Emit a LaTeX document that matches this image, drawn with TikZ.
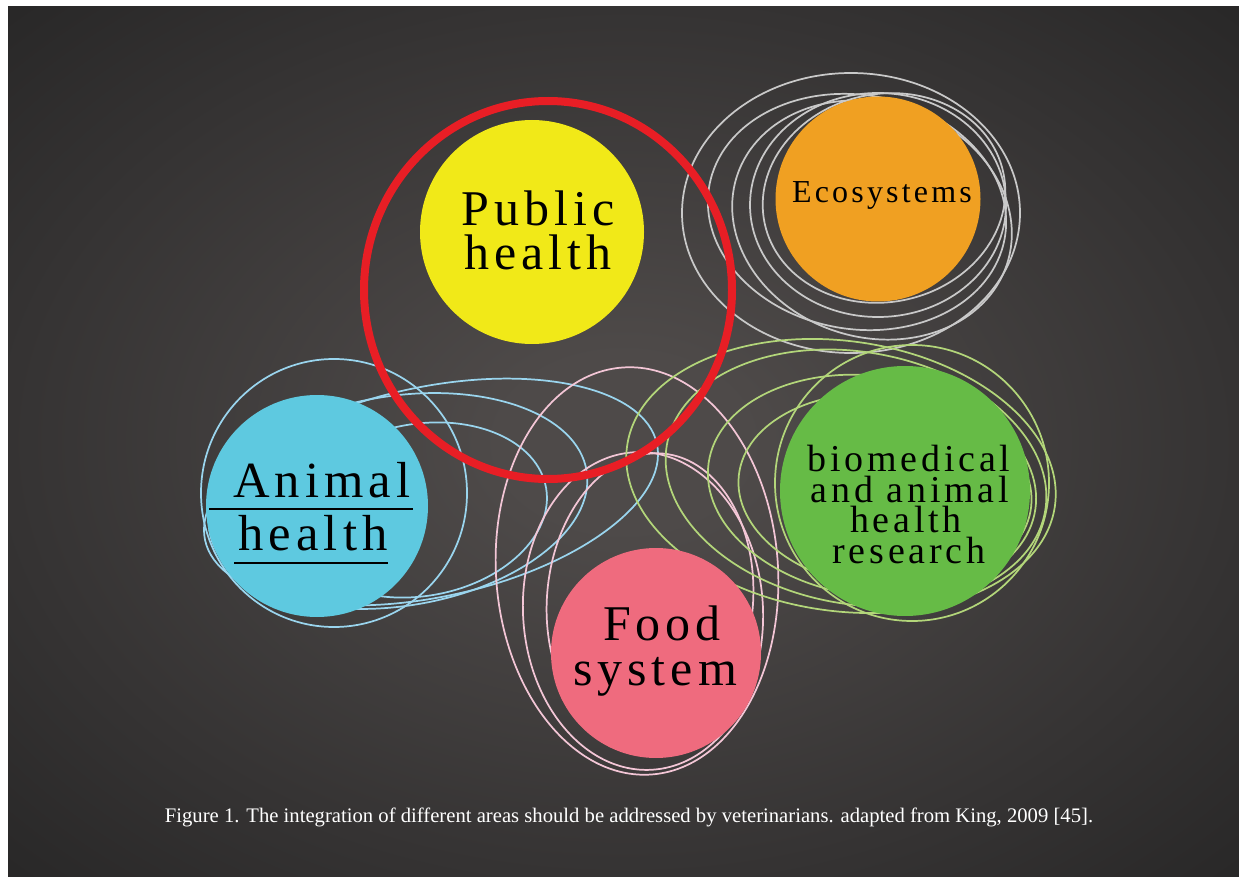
\documentclass[tikz,border=0pt]{standalone}
\usepackage{fontspec}
\setmainfont{Liberation Serif}
\newfontfamily\lblfont[LetterSpace=10]{Liberation Serif}
\definecolor{bgin}{HTML}{4E4A49}
\definecolor{bgmid}{HTML}{353333}
\definecolor{bgout}{HTML}{292828}
\definecolor{yellowc}{HTML}{F1E918}
\definecolor{orangec}{HTML}{F0A022}
\definecolor{cyanc}{HTML}{5EC9E0}
\definecolor{greenc}{HTML}{66BB46}
\definecolor{pinkc}{HTML}{EF6B7E}
\definecolor{redc}{HTML}{E81E25}
\definecolor{grayl}{HTML}{C9C9C9}
\definecolor{bluel}{HTML}{9AD5EE}
\definecolor{pinkl}{HTML}{F3C6D6}
\definecolor{greenl}{HTML}{B3D67A}
\pgfdeclareradialshading{bgshade}{\pgfpoint{0bp}{0bp}}{color(0bp)=(bgin); color(5bp)=(bgin); color(25bp)=(bgmid); color(35bp)=(bgout); color(50bp)=(bgout)}
\begin{document}
\begin{tikzpicture}[x=0.75pt,y=-0.75pt,
  ring/.style={line width=1.3pt},
  grayring/.style={ring,draw=grayl},
  bluering/.style={ring,draw=bluel},
  pinkring/.style={ring,draw=pinkl},
  greenring/.style={ring,draw=greenl},
  blob/.style={circle,inner sep=0pt,draw=none},
  lbl/.style={anchor=base,inner sep=0pt,text=black}]
\useasboundingbox (0,0) rectangle (1239,877);
\fill[white] (0,0) rectangle (1239,877);
\shade[shading=bgshade] (8,7) rectangle (1239,877);

% gray loops (Ecosystems)
\draw[grayring] (851,213) ellipse [x radius=169, y radius=140];
\draw[grayring, rotate around={-10:(857,212)}] (857,212) ellipse [x radius=150, y radius=117];
\draw[grayring] (878,205) ellipse [x radius=128, y radius=112];
\draw[grayring, rotate around={12:(884,198)}] (884,198) ellipse [x radius=122, y radius=104];
\draw[grayring, rotate around={-18:(872,220)}] (872,220) ellipse [x radius=142, y radius=117];

% blue loops (Animal health)
\draw[bluering] (334,493) ellipse [x radius=133, y radius=134];
\draw[bluering, rotate around={12:(431,492)}] (431,492) ellipse [x radius=231, y radius=105];
\draw[bluering, rotate around={9:(398,501)}] (398,501) ellipse [x radius=191, y radius=105];
\draw[bluering, rotate around={10:(420,510)}] (420,510) ellipse [x radius=128, y radius=86];

% pink loops (Food system)
\draw[pinkring, rotate around={4:(637,571)}] (637,571) ellipse [x radius=141, y radius=204];
\draw[pinkring, rotate around={3:(643,611)}] (643,611) ellipse [x radius=120, y radius=159];
\draw[pinkring, rotate around={-5:(650,600)}] (650,600) ellipse [x radius=103, y radius=147];

% green loops (research)
\draw[greenring, rotate around={-8:(841,476)}] (841,476) ellipse [x radius=216, y radius=135];
\draw[greenring, rotate around={-10:(856,478)}] (856,478) ellipse [x radius=192, y radius=126];
\draw[greenring, rotate around={-8:(872,486)}] (872,486) ellipse [x radius=165, y radius=110];
\draw[greenring, rotate around={-6:(885,491)}] (885,491) ellipse [x radius=147, y radius=97];
\draw[greenring] (912,483) ellipse [x radius=137, y radius=138];

% filled circles
\node[blob, fill=yellowc, minimum size=168pt] (ph) at (532,232) {};
\node[blob, fill=orangec, minimum size=153.75pt] (eco) at (878,199) {};
\node[blob, fill=cyanc, minimum size=166.5pt] (ah) at (317,506) {};
\node[blob, fill=greenc, minimum size=187.5pt] (bio) at (905,491) {};
\node[blob, fill=pinkc, minimum size=157.5pt] (food) at (656,653) {};

% red ring
\draw[redc, line width=6pt] (548,290) ellipse [x radius=184, y radius=189];

% labels
\node[lbl, font=\lblfont\fontsize{37.5pt}{37.5pt}\selectfont] (ph1) at (538,226) {Public};
\node[lbl, font=\lblfont\fontsize{37.5pt}{37.5pt}\selectfont] (ph2) at (538,270) {health};
\node[lbl, font=\lblfont\fontsize{24pt}{24pt}\selectfont] (eco1) at (882,203) {Ecosystems};
\node[lbl, font=\lblfont\fontsize{38pt}{38pt}\selectfont] (ah1) at (322,497) {Animal};
\node[lbl, font=\lblfont\fontsize{38pt}{38pt}\selectfont] (ah2) at (313,550) {health};
\draw[black, line width=2.2pt] (209,509) -- (413,509);
\draw[black, line width=2.2pt] (234,563) -- (388,563);
\node[lbl, font=\lblfont\fontsize{28.5pt}{28.5pt}\selectfont] (bio1) at (909,471) {biomedical};
\node[lbl, font=\lblfont\fontsize{28.5pt}{28.5pt}\selectfont] (bio2) at (910,502) {and animal};
\node[lbl, font=\lblfont\fontsize{28.5pt}{28.5pt}\selectfont] (bio3) at (906,532) {health};
\node[lbl, font=\lblfont\fontsize{28.5pt}{28.5pt}\selectfont] (bio4) at (909,563) {research};
\node[lbl, font=\lblfont\fontsize{37.5pt}{37.5pt}\selectfont] (food1) at (662,640) {Food};
\node[lbl, font=\lblfont\fontsize{37.5pt}{37.5pt}\selectfont] (food2) at (655,685) {system};

% caption
\node[anchor=base, inner sep=0pt, text=white, font=\fontsize{15.5pt}{18pt}\selectfont] (cap) at (629,822) {Figure 1. The integration of different areas should be addressed by veterinarians. adapted from King, 2009 [45].};
\end{tikzpicture}
\end{document}
